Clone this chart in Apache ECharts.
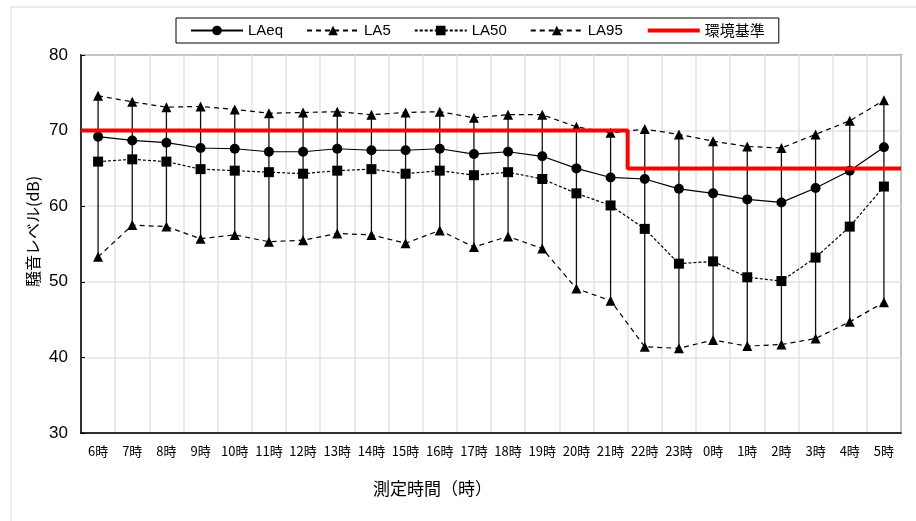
<!DOCTYPE html>
<html><head><meta charset="utf-8">
<script src="https://cdn.jsdelivr.net/npm/echarts@6/dist/echarts.min.js"></script>
<style>html,body{margin:0;padding:0;background:#fff}#c{width:916px;height:521px}</style>
</head><body><div id="c"></div>
<script>
const categories = ['6時','7時','8時','9時','10時','11時','12時','13時','14時','15時','16時','17時','18時','19時','20時','21時','22時','23時','0時','1時','2時','3時','4時','5時'];
const LAeq = [69.2,68.7,68.4,67.7,67.6,67.2,67.2,67.6,67.4,67.4,67.6,66.9,67.2,66.6,65.0,63.8,63.6,62.3,61.7,60.9,60.5,62.4,64.7,67.8];
const LA5  = [74.6,73.8,73.1,73.2,72.8,72.3,72.4,72.5,72.1,72.4,72.5,71.7,72.1,72.1,70.5,69.7,70.2,69.5,68.6,67.9,67.7,69.5,71.3,74.0];
const LA50 = [65.9,66.2,65.9,64.9,64.7,64.5,64.3,64.7,64.9,64.3,64.7,64.1,64.5,63.6,61.7,60.1,57.0,52.4,52.7,50.6,50.1,53.2,57.3,62.6];
const LA95 = [53.3,57.5,57.3,55.7,56.2,55.3,55.5,56.4,56.2,55.1,56.8,54.6,56.0,54.4,49.1,47.5,41.4,41.2,42.3,41.5,41.7,42.5,44.7,47.3];
// 環境基準: 昼間 (6時〜22時) 70dB, 夜間 (22時〜6時) 65dB  — positions in category-band units
const stdX = [0,16,16,24];
const stdY = [70,70,65,65];
const yTicks = [30,40,50,60,70,80];

const chart = echarts.init(document.getElementById('c'));
const font = '"Liberation Sans", Arial, sans-serif';
const jfont = '"Noto Sans CJK JP", sans-serif';
const rangeData = categories.map((c,i)=>[i, LA95[i], LA5[i]]);
chart.setOption({
  animation:false,
  graphic:[
    {type:'rect', shape:{x:11,y:7,width:920,height:530}, style:{fill:'none',stroke:'#e6e6e6',lineWidth:1.5}, z:-10},
    {type:'text', left:373, top:480, style:{text:'測定時間（時）', font:'17px "Noto Sans CJK JP"', fill:'#000'}},
    {type:'text', x:25, y:287, rotation:Math.PI/2, style:{text:'騒音レベル(dB)', font:'16px "Noto Sans CJK JP"', fill:'#000'}}
  ],
  legend:{
    left:176, top:18, padding:[5,14,5,14],
    borderColor:'#000', borderWidth:1, itemGap:23, itemWidth:52, itemHeight:12,
    textStyle:{fontFamily:font, fontSize:15, color:'#000'},
    data:['LAeq','LA5','LA50','LA95',{name:'環境基準', itemStyle:{opacity:0}, lineStyle:{width:4}, textStyle:{fontFamily:jfont}}]
  },
  grid:{left:81, top:55, right:15, bottom:88, show:true, borderColor:'#333', borderWidth:1.5},
  xAxis:[
    {type:'category', data:categories, boundaryGap:true,
     axisLine:{lineStyle:{color:'#000',width:1.5}},
     axisTick:{inside:true, length:4, lineStyle:{color:'#000'}},
     axisLabel:{fontFamily:jfont, fontSize:13, color:'#000', margin:12, interval:0},
     splitLine:{show:true, lineStyle:{color:'#e3e3e3', width:1.5}}},
    {type:'value', min:0, max:24, show:false}
  ],
  yAxis:{type:'value', min:30, max:80, interval:10,
    axisLine:{show:true, lineStyle:{color:'#000',width:1.5}},
    axisTick:{show:true, inside:true, length:4, lineStyle:{color:'#000'}},
    axisLabel:{fontFamily:font, fontSize:17, color:'#000', margin:13,
      formatter:v=>yTicks.includes(v)?String(v):''},
    splitLine:{lineStyle:{color:'#e3e3e3', width:1.5}}},
  series:[
    {type:'custom', name:'range', xAxisIndex:0, data:rangeData, z:1,
     renderItem:(params, api)=>{
       const lo = api.coord([api.value(0), api.value(1)]);
       const hi = api.coord([api.value(0), api.value(2)]);
       return {type:'line', shape:{x1:lo[0],y1:lo[1],x2:hi[0],y2:hi[1]}, style:{stroke:'#111', lineWidth:1.3}};
     }},
    {type:'line', name:'LAeq', data:LAeq, symbol:'circle', symbolSize:10, z:5,
     lineStyle:{color:'#000', width:1.2}, itemStyle:{color:'#000'}},
    {type:'line', name:'LA5', data:LA5, symbol:'triangle', symbolSize:10, z:5,
     lineStyle:{color:'#000', width:1.2, type:[5,4]}, itemStyle:{color:'#000'}},
    {type:'line', name:'LA50', data:LA50, symbol:'rect', symbolSize:10, z:5,
     lineStyle:{color:'#000', width:1.2, type:[3,2]}, itemStyle:{color:'#000'}},
    {type:'line', name:'LA95', data:LA95, symbol:'triangle', symbolSize:10, z:5,
     lineStyle:{color:'#000', width:1.2, type:[5,4]}, itemStyle:{color:'#000'}},
    {type:'line', name:'環境基準', xAxisIndex:1, data:stdX.map((x,i)=>[x,stdY[i]]), symbol:'none', z:6,
     lineStyle:{color:'#ff0000', width:4}, itemStyle:{color:'#ff0000'}}
  ]
});
</script></body></html>
